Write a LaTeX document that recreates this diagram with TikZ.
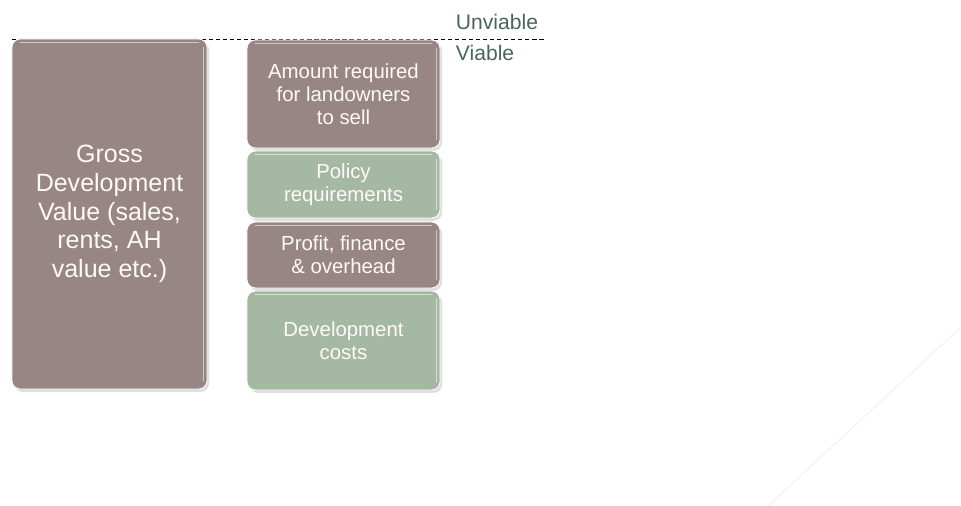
\documentclass[tikz,border=0pt]{standalone}
\usepackage{fontspec}
\setmainfont{Liberation Sans}
\usetikzlibrary{shadows,calc}

\definecolor{costbrown}{HTML}{978683}
\definecolor{costgreen}{HTML}{A5B9A2}
\definecolor{labelgreen}{HTML}{4A6656}

\tikzset{
  block/.style={rounded corners=6pt, draw=white, line width=0.6pt,
    text=white!90!pink, align=center, inner sep=2pt,
    drop shadow={opacity=0.25, shadow xshift=1.5pt, shadow yshift=-2pt}},
  shine/.style={white, opacity=0.55, line width=1.2pt, line cap=round}
}

\begin{document}
\begin{tikzpicture}[x=0.025cm, y=-0.025cm]
    \useasboundingbox (0,0) rectangle (961,506);
    % viability threshold
    \draw[densely dashed, semithick] (12,39) -- (545,39);
    \node[labelgreen, font=\fontsize{15}{17}\selectfont, anchor=west] (unviable) at (451,22) {Unviable};
    \node[labelgreen, font=\fontsize{15}{17}\selectfont, anchor=west] (viable) at (451,53) {Viable};
    % value column
    \node[block, fill=costbrown, minimum width=4.875cm, minimum height=8.75cm,
      font=\fontsize{17.8}{20.5}\selectfont] (gdv) at (109.5,214)
      {Gross\\Development\\Value (sales,\\rents, AH\\value etc.)};
    % cost column
    \foreach \name/\y/\h/\col/\txt in {
        land/94/2.7/costbrown/{Amount required\\for landowners\\to sell},
        policy/184.5/1.675/costgreen/{Policy\\requirements},
        profit/255/1.65/costbrown/{Profit, finance\\\& overhead},
        devcost/340.5/2.475/costgreen/{Development\\costs}} {
      \node[block, fill=\col, minimum width=4.825cm, minimum height=\h cm,
        font=\fontsize{14.5}{16.5}\selectfont] (\name) at (343.5,\y) {\txt};
    }
    % glossy edges
    \foreach \name in {gdv,land,policy,profit,devcost} {
      \draw[shine] ($(\name.north west)+(9,4)$) -- ($(\name.north east)+(-9,4)$);
      \draw[shine] ($(\name.north east)+(-4,9)$) -- ($(\name.south east)+(-4,-9)$);
    }
    % faint corner stroke
    \draw[gray!12, line width=0.6pt] (768,506) -- (960,328);
  \end{tikzpicture}
\end{document}
